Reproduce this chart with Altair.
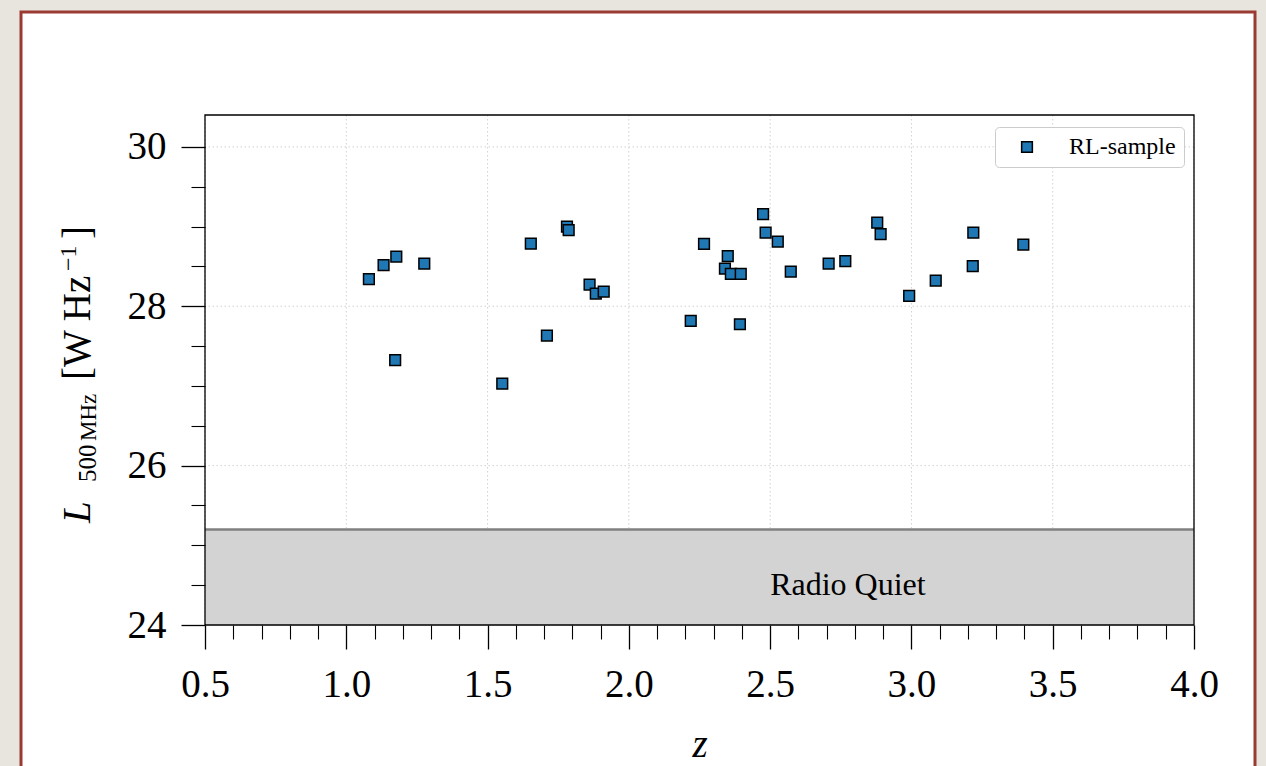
import altair as alt
import pandas as pd

# ---- data ----
z_vals = [1.080, 1.132, 1.177, 1.173, 1.276, 1.552, 1.653, 1.710, 1.781, 1.787,
          1.861, 1.883, 1.911, 2.219, 2.266, 2.340, 2.350, 2.361, 2.396, 2.393,
          2.475, 2.484, 2.527, 2.573, 2.707, 2.766, 2.879, 2.891, 2.992, 3.086,
          3.217, 3.219, 3.396]
L_vals = [28.34, 28.515, 28.623, 27.323, 28.535, 27.029, 28.786, 27.631, 29.00, 28.954,
          28.272, 28.159, 28.184, 27.816, 28.782, 28.472, 28.628, 28.406, 28.406, 27.774,
          29.155, 28.924, 28.811, 28.435, 28.535, 28.565, 29.050, 28.904, 28.130, 28.322,
          28.503, 28.924, 28.774]
series_name = "RL-sample"

x_major = [0.5, 1.0, 1.5, 2.0, 2.5, 3.0, 3.5, 4.0]
x_minor = [0.6, 0.7, 0.8, 0.9, 1.1, 1.2, 1.3, 1.4, 1.6, 1.7, 1.8, 1.9,
           2.1, 2.2, 2.3, 2.4, 2.6, 2.7, 2.8, 2.9, 3.1, 3.2, 3.3, 3.4,
           3.6, 3.7, 3.8, 3.9]
y_major = [24, 26, 28, 30]
y_minor = [24.5, 25.0, 25.5, 26.5, 27.0, 27.5, 28.5, 29.0, 29.5]
x_domain = [0.5, 4.0]
y_domain = [24.0, 30.4]

rq_low, rq_high = 24.0, 25.2
rq_text = "Radio Quiet"
rq_text_x, rq_text_y = 2.5, 24.38

W, H = 989, 510
SERIF = "Liberation Serif"

df = pd.DataFrame({"z": z_vals, "L": L_vals, "series": [series_name] * len(z_vals)})
xs = alt.Scale(domain=x_domain, nice=False, zero=False)
ys = alt.Scale(domain=y_domain, nice=False, zero=False)
one = alt.Data(values=[{"k": 0}])

# card background
card = alt.Chart(one).mark_rect(fill="white", stroke="#9b3a33", strokeWidth=3).encode(
    x=alt.value(-184), x2=alt.value(1050), y=alt.value(-103), y2=alt.value(720))

grid_style = dict(color="#cccccc", strokeWidth=0.9, strokeDash=[1.5, 2.5])
xgrid = alt.Chart(pd.DataFrame({"g": x_major})).mark_rule(**grid_style).encode(
    x=alt.X("g:Q", scale=xs, axis=None))
ygrid = alt.Chart(pd.DataFrame({"g": y_major})).mark_rule(**grid_style).encode(
    y=alt.Y("g:Q", scale=ys, axis=None))

rq_df = pd.DataFrame({"x0": [x_domain[0]], "x1": [x_domain[1]], "y0": [rq_low], "y1": [rq_high],
                      "tx": [rq_text_x], "ty": [rq_text_y], "t": [rq_text]})
rq_rect = alt.Chart(rq_df).mark_rect(color="#d3d3d3").encode(
    x=alt.X("x0:Q", scale=xs, axis=None), x2="x1:Q",
    y=alt.Y("y0:Q", scale=ys, axis=None), y2="y1:Q")
rq_line = alt.Chart(rq_df).mark_rule(color="#808080", strokeWidth=2.5).encode(
    x=alt.X("x0:Q", scale=xs, axis=None), x2="x1:Q",
    y=alt.Y("y1:Q", scale=ys, axis=None))
rq_label = alt.Chart(rq_df).mark_text(font=SERIF, fontSize=32, align="left",
                                      baseline="alphabetic", color="black").encode(
    x=alt.X("tx:Q", scale=xs, axis=None), y=alt.Y("ty:Q", scale=ys, axis=None), text="t:N")

axis_common = dict(labelFont=SERIF, labelFontSize=39, labelColor="black", tickColor="black",
                   tickWidth=1.3, domain=False, grid=False, labelFlush=False,
                   labelOverlap=False, zindex=1)

points = alt.Chart(df).mark_square(size=115, stroke="black", strokeWidth=1.5,
                                   opacity=1, filled=True).encode(
    x=alt.X("z:Q", scale=xs, axis=alt.Axis(values=x_major, format=".1f", tickSize=24,
                                           labelPadding=16, orient="bottom", title="z",
                                           titleFont=SERIF, titleFontSize=39,
                                           titleFontStyle="italic", titleFontWeight="normal",
                                           titleColor="black", titlePadding=21,
                                           **axis_common)),
    y=alt.Y("L:Q", scale=ys, axis=alt.Axis(values=y_major, format="d", tickSize=24,
                                           labelPadding=15, orient="left", title=None,
                                           **axis_common)),
    color=alt.Color("series:N", scale=alt.Scale(domain=[series_name], range=["#1f77b4"]),
                    legend=alt.Legend(title=None, orient="none", legendX=790, legendY=12,
                                      padding=8, symbolOffset=12, labelOffset=30,
                                      fillColor="white", strokeColor="#cccccc",
                                      cornerRadius=4, symbolType="square", symbolSize=115,
                                      symbolStrokeColor="black", symbolStrokeWidth=1.5,
                                      labelFont=SERIF, labelFontSize=24, labelColor="black")),
)

minor = alt.Chart(df).mark_point(opacity=0).encode(
    x=alt.X("z:Q", scale=xs, axis=alt.Axis(values=x_minor, labels=False, tickSize=14,
                                           orient="bottom", title=None, tickColor="black",
                                           tickWidth=1.1, domain=False, grid=False, zindex=1)),
    y=alt.Y("L:Q", scale=ys, axis=alt.Axis(values=y_minor, labels=False, tickSize=14,
                                           orient="left", title=None, tickColor="black",
                                           tickWidth=1.1, domain=False, grid=False, zindex=1)),
)

frame = alt.Chart(one).mark_rect(fillOpacity=0, stroke="black", strokeWidth=1.3).encode(
    x=alt.value(0), x2=alt.value(W), y=alt.value(0), y2=alt.value(H))

# y-axis title pieces (rotated text, LaTeX-like sub/superscripts)
title_pieces = [
    ("L", 39, "italic", -115, 408),
    ("500", 25, "normal", -109, 367),
    ("MHz", 23, "normal", -109, 326),
    ("[W Hz", 39, "normal", -115, 265),
    ("\u22121", 24, "normal", -129, 156),
    ("]", 39, "normal", -115, 124),
]
ttl_layers = []
for txt, fs, st, px, py in title_pieces:
    ttl_layers.append(
        alt.Chart(one).mark_text(text=txt, font=SERIF, fontSize=fs, fontStyle=st, angle=270,
                                 align="left", baseline="alphabetic", color="black").encode(
            x=alt.value(px), y=alt.value(py)))

chart = alt.layer(card, xgrid, ygrid, rq_rect, rq_line, rq_label, points, minor, frame,
                  *ttl_layers).resolve_axis(x="independent", y="independent").properties(
    width=W, height=H,
    padding={"left": 205, "top": 115, "right": 72, "bottom": 141},
    autosize=alt.AutoSizeParams(type="none"),
    background="#e8e5df",
).configure_view(stroke=None)

chart.save("out.html", embed_options={"renderer": "svg", "actions": False})
